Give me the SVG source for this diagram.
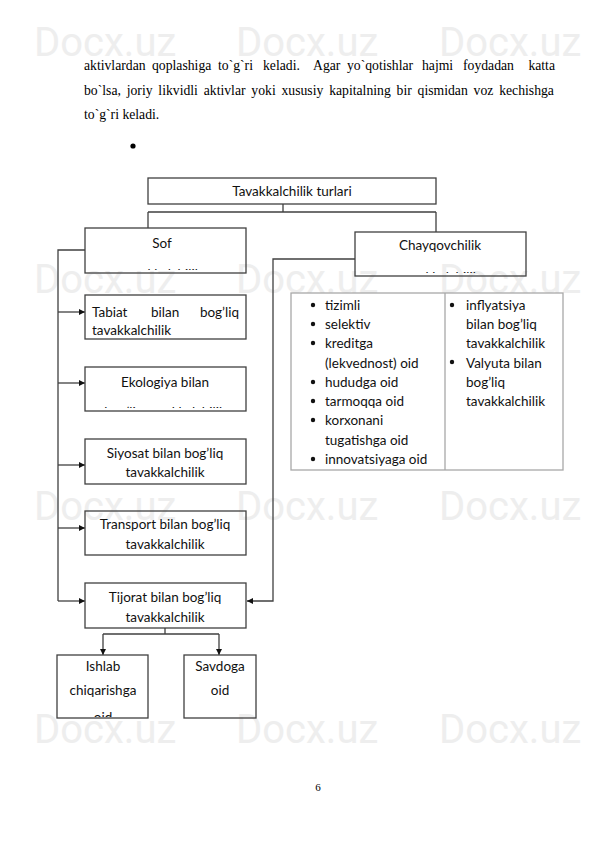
<svg xmlns="http://www.w3.org/2000/svg" width="595" height="842" viewBox="0 0 595 842">
<style>
.wm{font-family:Roboto,"Liberation Sans",sans-serif;font-size:40px;fill:#eeeeee}
.body{font-family:"Liberation Serif",serif;font-size:13.7px;fill:#000}
.t{font-family:Lato,"Noto Sans",sans-serif;font-size:13.5px;fill:#111}
.c{text-anchor:middle}
.box{fill:none;stroke:#404040;stroke-width:1.3}
.tbl{fill:none;stroke:#a8a8a8;stroke-width:1.3}
.ln{fill:none;stroke:#404040;stroke-width:1.3}
</style>
<defs>
<marker id="ah" viewBox="0 0 6 6" refX="6" refY="3" markerWidth="6" markerHeight="6" markerUnits="userSpaceOnUse" orient="auto">
<path d="M0,0 L6,3 L0,6 z" fill="#111"/>
</marker>
<clipPath id="cSof"><rect x="86" y="229" width="160" height="41"/></clipPath>
<clipPath id="cCh"><rect x="356" y="233" width="170" height="40"/></clipPath>
<clipPath id="cEk"><rect x="86" y="368" width="160" height="40"/></clipPath>
<clipPath id="cIs"><rect x="58" y="656" width="90" height="61"/></clipPath>
</defs>
<rect width="595" height="842" fill="#fff"/>
<g id="watermark">
<text class="wm" x="34" y="56">Docx.uz</text><text class="wm" x="236" y="56">Docx.uz</text><text class="wm" x="439" y="56">Docx.uz</text>
<text class="wm" x="34" y="293">Docx.uz</text><text class="wm" x="236" y="293">Docx.uz</text><text class="wm" x="439" y="293">Docx.uz</text>
<text class="wm" x="34" y="520">Docx.uz</text><text class="wm" x="236" y="520">Docx.uz</text><text class="wm" x="439" y="520">Docx.uz</text>
<text class="wm" x="34" y="743">Docx.uz</text><text class="wm" x="236" y="743">Docx.uz</text><text class="wm" x="439" y="743">Docx.uz</text>
</g>
<g id="paragraph">
<text class="body" y="70"><tspan x="84">aktivlardan</tspan><tspan x="152">qoplashiga</tspan><tspan x="218">to`g`ri</tspan><tspan x="263">keladi.</tspan><tspan x="313">Agar</tspan><tspan x="347">yo`qotishlar</tspan><tspan x="422">hajmi</tspan><tspan x="463">foydadan</tspan><tspan x="555" text-anchor="end">katta</tspan></text>
<text class="body" x="84" y="95" word-spacing="2.4">bo`lsa, joriy likvidli aktivlar yoki xususiy kapitalning bir qismidan voz kechishga</text>
<text class="body" x="84" y="119">to`g`ri keladi.</text>
<circle cx="133" cy="146" r="2.6" fill="#000"/>
</g>
<g id="connectors">
<path class="ln" d="M283,204 V212 M148,212 H436 M148,212 V228 M436,212 V232"/>
<path class="ln" d="M85,250 H58 V601"/>
<path class="ln" d="M58,312 H85" marker-end="url(#ah)"/>
<path class="ln" d="M58,383 H85" marker-end="url(#ah)"/>
<path class="ln" d="M58,465 H85" marker-end="url(#ah)"/>
<path class="ln" d="M58,528 H85" marker-end="url(#ah)"/>
<path class="ln" d="M58,601 H85" marker-end="url(#ah)"/>
<path class="ln" d="M355,259 H273 V601 H247" marker-end="url(#ah)"/>
<path class="ln" d="M165,628 V634 M103,634 H219"/>
<path class="ln" d="M103,634 V655" marker-end="url(#ah)"/>
<path class="ln" d="M219,634 V655" marker-end="url(#ah)"/>
</g>
<g id="root">
<rect class="box" x="148" y="178" width="288" height="26"/>
<text class="t c" x="292" y="196">Tavakkalchilik  turlari</text>
</g>
<g id="sof">
<rect class="box" x="85" y="228" width="161" height="45"/>
<text class="t c" x="162" y="248">Sof</text>
<text class="t c" x="162" y="279" clip-path="url(#cSof)">tavakkalchilik</text>
</g>
<g id="chayqovchilik">
<rect class="box" x="355" y="232" width="171" height="44"/>
<text class="t c" x="440" y="250">Chayqovchilik</text>
<text class="t c" x="440" y="282" clip-path="url(#cCh)">tavakkalchilik</text>
</g>
<g id="tabiat">
<rect class="box" x="85" y="295" width="161" height="44"/>
<text class="t" x="92" y="317">Tabiat</text>
<text class="t" x="151" y="317">bilan</text>
<text class="t" x="239" y="317" text-anchor="end">bog’liq</text>
<text class="t" x="92" y="335">tavakkalchilik</text>
</g>
<g id="ekologiya">
<rect class="box" x="85" y="367" width="161" height="44"/>
<text class="t c" x="165" y="387">Ekologiya bilan</text>
<text class="t c" x="165" y="417" clip-path="url(#cEk)">bog’liq tavakkalchilik</text>
</g>
<g id="siyosat">
<rect class="box" x="85" y="439" width="161" height="45"/>
<text class="t c" x="165" y="458">Siyosat bilan bog’liq</text>
<text class="t c" x="165" y="477">tavakkalchilik</text>
</g>
<g id="transport">
<rect class="box" x="85" y="511" width="161" height="44"/>
<text class="t c" x="165" y="529">Transport bilan bog’liq</text>
<text class="t c" x="165" y="549">tavakkalchilik</text>
</g>
<g id="tijorat">
<rect class="box" x="85" y="583" width="161" height="45"/>
<text class="t c" x="165" y="602">Tijorat bilan bog’liq</text>
<text class="t c" x="165" y="622">tavakkalchilik</text>
</g>
<g id="ishlab">
<rect class="box" x="57" y="655" width="91" height="63"/>
<text class="t c" x="103" y="671">Ishlab</text>
<text class="t c" x="103" y="695">chiqarishga</text>
<text class="t c" x="103" y="722" clip-path="url(#cIs)">oid</text>
</g>
<g id="savdoga">
<rect class="box" x="184" y="655" width="72" height="63"/>
<text class="t c" x="220" y="671">Savdoga</text>
<text class="t c" x="220" y="695">oid</text>
</g>
<g id="table">
<rect class="tbl" x="291" y="293" width="272" height="177"/>
<line class="tbl" x1="445" y1="293" x2="445" y2="470"/>
<g fill="#111">
<circle cx="313" cy="305" r="2.2"/><circle cx="313" cy="324" r="2.2"/><circle cx="313" cy="343" r="2.2"/>
<circle cx="313" cy="382" r="2.2"/><circle cx="313" cy="401" r="2.2"/><circle cx="313" cy="420" r="2.2"/>
<circle cx="313" cy="459" r="2.2"/>
<circle cx="452" cy="305" r="2.2"/><circle cx="452" cy="362" r="2.2"/>
</g>
<text class="t" x="325" y="310">tizimli</text>
<text class="t" x="325" y="329">selektiv</text>
<text class="t" x="325" y="348">kreditga</text>
<text class="t" x="325" y="368">(lekvednost) oid</text>
<text class="t" x="325" y="387">hududga oid</text>
<text class="t" x="325" y="406">tarmoqqa oid</text>
<text class="t" x="325" y="425">korxonani</text>
<text class="t" x="325" y="445">tugatishga oid</text>
<text class="t" x="325" y="464">innovatsiyaga oid</text>
<text class="t" x="466" y="310">inflyatsiya</text>
<text class="t" x="466" y="329">bilan bog’liq</text>
<text class="t" x="466" y="348">tavakkalchilik</text>
<text class="t" x="466" y="368">Valyuta bilan</text>
<text class="t" x="466" y="387">bog’liq</text>
<text class="t" x="466" y="406">tavakkalchilik</text>
</g>
<text class="body" x="318" y="791" style="font-size:11px" text-anchor="middle">6</text>
</svg>
